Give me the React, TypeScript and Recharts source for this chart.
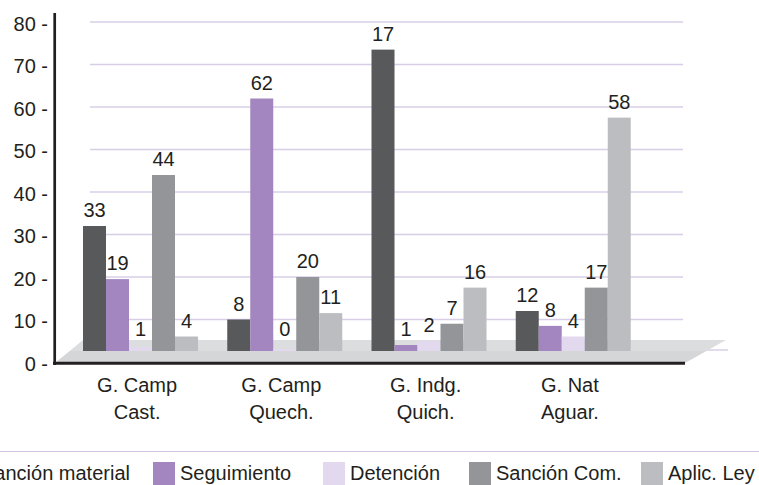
import React from 'react';
import { BarChart, Bar, XAxis, YAxis, CartesianGrid, Legend, LabelList } from 'recharts';

// ---------- data ----------
const categories = ['G. Camp\nCast.', 'G. Camp\nQuech.', 'G. Indg.\nQuich.', 'G. Nat\nAguar.'];
const seriesNames = ['Sanción material', 'Seguimiento', 'Detención', 'Sanción Com.', 'Aplic. Ley'];
const seriesColors = ['#58595b', '#a386bf', '#e2d9ee', '#939598', '#bcbdc0'];

// bar heights as read on the value axis
const sancionMaterial = [32, 10, 73.5, 12];
const seguimiento = [19.5, 62, 4, 8.5];
const detencion = [3.5, 3, 5, 6];
const sancionCom = [44, 20, 9, 17.5];
const aplicLey = [6, 11.5, 17.5, 57.5];

// printed data labels
const sancionMaterialLabels = [33, 8, 17, 12];
const seguimientoLabels = [19, 62, 1, 8];
const detencionLabels = [1, 0, 2, 4];
const sancionComLabels = [44, 20, 7, 17];
const aplicLeyLabels = [4, 11, 16, 58];

const yTicks = [0, 10, 20, 30, 40, 50, 60, 70, 80];

const seriesValues = [sancionMaterial, seguimiento, detencion, sancionCom, aplicLey];
const seriesLabels = [sancionMaterialLabels, seguimientoLabels, detencionLabels, sancionComLabels, aplicLeyLabels];

const data = categories.map((c, i) => {
  const row: any = { category: c };
  seriesValues.forEach((vals, s) => {
    row[`v${s}`] = vals[i];
    row[`l${s}`] = seriesLabels[s][i];
  });
  return row;
});

// ---------- layout / style ----------
const W = 759;
const H = 485;
const FONT = "'Liberation Sans', Arial, Helvetica, sans-serif";
const TEXT = '#231f20';
const GRID = '#d8cfe7';
const PLOT_LEFT = 55;
const PLOT_RIGHT = 685;
const PLOT_TOP = 22;
const PLOT_BOTTOM = 362;
const FLOOR_LIFT = 11; // bars stand on the middle of the floor
const FLOOR_BACK = 340;
const FLOOR_DEPTH_X = 28;
const FLOOR_RIGHT_BACK = 726;

const FloorBar = (props: any) => {
  const { x, y, width, height, fill } = props;
  if (x == null || y == null) return null;
  const bottom = y + height - FLOOR_LIFT;
  const h = Math.max(bottom - y, 0);
  return <rect x={x} y={y} width={width} height={h} fill={fill} />;
};

const BarLabel = (props: any) => {
  const vb = props.viewBox || {};
  const x = props.x ?? vb.x;
  const y = props.y ?? vb.y;
  const width = props.width ?? vb.width;
  if (x == null || y == null) return null;
  const baseline = Math.min(y - 9, 336);
  return (
    <text x={x + width / 2} y={baseline} textAnchor="middle" fontSize={20} fill={TEXT} fontFamily={FONT}>
      {props.value}
    </text>
  );
};

const XTick = (props: any) => {
  const { x, y, payload } = props;
  const lines = String(payload.value).split('\n');
  return (
    <g>
      {lines.map((ln, i) => (
        <text key={i} x={x - 3} y={y + 29.5 + i * 27.5} textAnchor="middle" fontSize={20} fill={TEXT} fontFamily={FONT}>
          {ln}
        </text>
      ))}
    </g>
  );
};

const YTick = (props: any) => {
  const { y, payload } = props;
  return (
    <text x={48} y={y + 8.5} textAnchor="end" fontSize={20} fill={TEXT} fontFamily={FONT}>
      {`${payload.value} -`}
    </text>
  );
};

const legendLefts = [-46, 153, 323, 469, 641];

const renderLegend = (props: any) => {
  const payload: any[] = props.payload || [];
  const ordered = seriesNames.map((n, i) => {
    const p = payload.find((q: any) => q.value === n);
    return { value: n, color: p ? p.color : seriesColors[i] };
  });
  return (
    <div
      style={{
        position: 'relative',
        width: W,
        height: 34,
        overflow: 'hidden',
        borderTop: `1.5px solid #cfc4e2`,
        boxSizing: 'border-box',
        fontFamily: FONT,
        fontSize: 20,
        color: TEXT,
      }}
    >
      {ordered.map((p: any, i: number) => (
        <div
          key={i}
          style={{ position: 'absolute', left: legendLefts[i], top: 9.5, display: 'flex', alignItems: 'flex-start', whiteSpace: 'nowrap' }}
        >
          <div style={{ width: 22, height: 30, background: p.color }} />
          <span style={{ marginLeft: 5, lineHeight: '20px', marginTop: 1 }}>{p.value}</span>
        </div>
      ))}
    </div>
  );
};

export default function App() {
  const floorMidY = PLOT_BOTTOM - FLOOR_LIFT;
  const frontY = PLOT_BOTTOM + 1;
  const leftAtMid = PLOT_LEFT + (FLOOR_DEPTH_X * (frontY - floorMidY)) / (frontY - FLOOR_BACK);
  const rightAtMid = PLOT_RIGHT + ((FLOOR_RIGHT_BACK - PLOT_RIGHT) * (frontY - floorMidY)) / (frontY - FLOOR_BACK);
  return (
    <div style={{ position: 'absolute', left: 0, top: 0, width: W, height: H, background: '#fff', fontFamily: FONT }}>
      <svg width={W} height={H} style={{ position: 'absolute', left: 0, top: 0 }}>
        <line x1={90} x2={FLOOR_RIGHT_BACK + 2} y1={floorMidY - 1} y2={floorMidY - 1} stroke={GRID} strokeWidth={1.5} />
        <polygon
          points={`${PLOT_LEFT + FLOOR_DEPTH_X},${FLOOR_BACK} ${FLOOR_RIGHT_BACK},${FLOOR_BACK} ${rightAtMid},${floorMidY} ${leftAtMid},${floorMidY}`}
          fill="#dcdddf"
        />
        <polygon
          points={`${leftAtMid},${floorMidY} ${rightAtMid},${floorMidY} ${PLOT_RIGHT},${frontY} ${PLOT_LEFT},${frontY}`}
          fill="#d5d6d8"
        />
        <line x1={PLOT_LEFT - 2} x2={PLOT_RIGHT} y1={frontY + 0.3} y2={frontY + 0.3} stroke={TEXT} strokeWidth={3} />
        <line x1={PLOT_LEFT - 0.3} x2={PLOT_LEFT - 0.3} y1={13} y2={frontY + 2} stroke={TEXT} strokeWidth={2.7} />
      </svg>
      <div style={{ position: 'absolute', left: 0, top: 0 }}>
        <BarChart
          width={W}
          height={H}
          data={data}
          margin={{ top: PLOT_TOP, right: W - PLOT_RIGHT, bottom: H - PLOT_BOTTOM - 60, left: 0 }}
          barGap={0}
          barSize={23}
        >
          <CartesianGrid
            vertical={false}
            stroke={GRID}
            strokeWidth={1.5}
            x={90}
            width={593}
            horizontalValues={yTicks.filter((t) => t > 0)}
          />
          <XAxis
            dataKey="category"
            height={60}
            axisLine={false}
            tickLine={false}
            tickSize={0}
            tickMargin={0}
            interval={0}
            padding={{ left: 13, right: 40 }}
            tick={<XTick />}
          />
          <YAxis
            width={PLOT_LEFT}
            domain={[0, 80]}
            ticks={yTicks}
            interval={0}
            axisLine={false}
            tickLine={false}
            tick={<YTick />}
          />
          <Legend verticalAlign="middle" layout="horizontal" content={renderLegend} wrapperStyle={{ position: 'absolute', left: 0, top: 451, width: W, height: 34, margin: 0, padding: 0 }} />
          {seriesNames.map((name, s) => (
            <Bar
              key={name}
              dataKey={`v${s}`}
              name={name}
              fill={seriesColors[s]}
              isAnimationActive={false}
              shape={<FloorBar />}
            >
              <LabelList dataKey={`l${s}`} content={<BarLabel />} />
            </Bar>
          ))}
        </BarChart>
      </div>
    </div>
  );
}
